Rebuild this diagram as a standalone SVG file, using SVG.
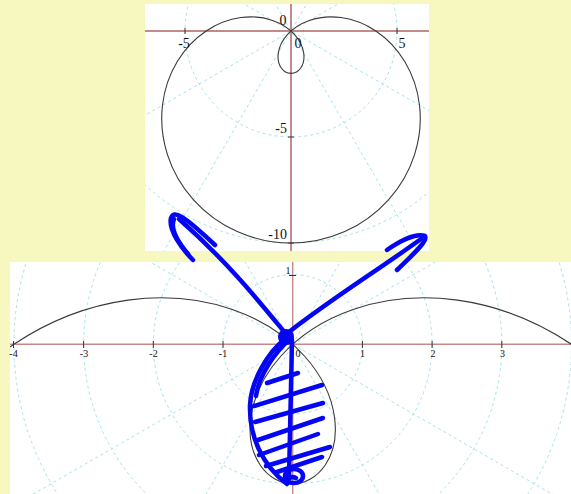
<svg xmlns="http://www.w3.org/2000/svg" xmlns:xlink="http://www.w3.org/1999/xlink" width="571" height="494" viewBox="0 0 571 494">
<style>
.grid{fill:none;stroke:#a9e3ea;stroke-width:1;stroke-dasharray:3 3}
.axis{stroke:#c48a8a;fill:none}
.tick{stroke:#333;stroke-width:1}
.curve{fill:none;stroke:#3a3a3a;stroke-width:1.1}
.lblT{font-family:"Liberation Serif",serif;font-size:14px;fill:#111}
.lblB{font-family:"Liberation Serif",serif;font-size:10px;fill:#111}
.ink{fill:none;stroke:#0505f5;stroke-width:4.5;stroke-linecap:round;stroke-linejoin:round}
</style>
<defs>
<clipPath id="cT"><rect x="145" y="4" width="284" height="247"/></clipPath>
<clipPath id="cB"><rect x="10" y="262" width="561" height="232"/></clipPath>
<path id="lim" vector-effect="non-scaling-stroke" d="M0,-10 C0.8727,-10 1.74465,-9.81392 2.53528,-9.46178 C3.3259,-9.10964 4.03398,-8.59209 4.59808,-7.9641 C5.16217,-7.33612 5.5816,-6.59886 5.82843,-5.82843 C6.07525,-5.058 6.14944,-4.25575 6.06218,-3.5 C5.97491,-2.74425 5.72681,-2.03618 5.3637,-1.4372 C5.0006,-0.83823 4.5236,-0.34907 4,0 C3.4764,0.34907 2.9075,0.55798 2.3637,0.63335 C1.81991,0.70873 1.30236,0.65115 0.86603,0.5 C0.42969,0.34885 0.07525,0.1052 -0.17157,-0.17157 C-0.4184,-0.44835 -0.55758,-0.75698 -0.59808,-1.0359 C-0.63858,-1.31482 -0.581,-1.56292 -0.46472,-1.73437 C-0.34845,-1.90583 -0.17453,-2 0,-2 C0.17453,-2 0.34845,-1.90583 0.46472,-1.73437 C0.581,-1.56292 0.63858,-1.31482 0.59808,-1.0359 C0.55758,-0.75698 0.4184,-0.44835 0.17157,-0.17157 C-0.07525,0.1052 -0.42969,0.34885 -0.86603,0.5 C-1.30236,0.65115 -1.81991,0.70873 -2.3637,0.63335 C-2.9075,0.55798 -3.4764,0.34907 -4,0 C-4.5236,-0.34907 -5.0006,-0.83823 -5.3637,-1.4372 C-5.72681,-2.03618 -5.97491,-2.74425 -6.06218,-3.5 C-6.14944,-4.25575 -6.07525,-5.058 -5.82843,-5.82843 C-5.5816,-6.59886 -5.16217,-7.33612 -4.59808,-7.9641 C-4.03398,-8.59209 -3.3259,-9.10964 -2.53528,-9.46178 C-1.74465,-9.81392 -0.8727,-10 0,-10 Z"/>
</defs>
<rect x="0" y="0" width="571" height="494" fill="#f7f8c0"/>

<g id="top-plot">
<rect x="145" y="4" width="284" height="247" fill="#fff"/>
<g clip-path="url(#cT)">
<g class="grid">
<circle cx="291" cy="31" r="106"/>
<circle cx="291" cy="31" r="212"/>
<line x1="-55.4" y1="-169" x2="637.4" y2="231"/>
<line x1="-55.4" y1="231" x2="637.4" y2="-169"/>
<line x1="91" y1="-315.4" x2="491" y2="377.4"/>
<line x1="91" y1="377.4" x2="491" y2="-315.4"/>
</g>
<line class="axis" x1="145" y1="31" x2="429" y2="31" stroke-width="2"/>
<line class="axis" x1="291" y1="4" x2="291" y2="251" stroke-width="2"/>
<line class="tick" x1="185" y1="28" x2="185" y2="34"/>
<line class="tick" x1="397" y1="28" x2="397" y2="34"/>
<line class="tick" x1="288" y1="137" x2="294" y2="137"/>
<line class="tick" x1="288" y1="243" x2="294" y2="243"/>
<use href="#lim" xlink:href="#lim" class="curve" transform="translate(291,31) scale(21.2,-21.2)"/>
</g>
<text class="lblT" x="283" y="25" text-anchor="middle">0</text>
<text class="lblT" x="298" y="48" text-anchor="middle">0</text>
<text class="lblT" x="184" y="48" text-anchor="middle">-5</text>
<text class="lblT" x="402" y="48" text-anchor="middle">5</text>
<text class="lblT" x="287" y="133" text-anchor="end">-5</text>
<text class="lblT" x="287" y="239" text-anchor="end">-10</text>
</g>

<g id="bottom-plot">
<rect x="10" y="262" width="561" height="232" fill="#fff"/>
<g clip-path="url(#cB)">
<g class="grid">
<circle cx="292.7" cy="344.3" r="69.7"/>
<circle cx="292.7" cy="344.3" r="139.4"/>
<circle cx="292.7" cy="344.3" r="209.1"/>
<circle cx="292.7" cy="344.3" r="278.8"/>
<circle cx="292.7" cy="344.3" r="348.5"/>
<line x1="-226.9" y1="44.3" x2="812.3" y2="644.3"/>
<line x1="-226.9" y1="644.3" x2="812.3" y2="44.3"/>
<line x1="-7.3" y1="-175.3" x2="592.7" y2="863.9"/>
<line x1="-7.3" y1="863.9" x2="592.7" y2="-175.3"/>
</g>
<line class="axis" x1="10" y1="344.3" x2="571" y2="344.3" stroke-width="1.4"/>
<line class="axis" x1="292.7" y1="262" x2="292.7" y2="494" stroke-width="1.4"/>
<g class="tick">
<line x1="13.5" y1="341" x2="13.5" y2="348"/>
<line x1="83.6" y1="341" x2="83.6" y2="348"/>
<line x1="153.3" y1="341" x2="153.3" y2="348"/>
<line x1="223" y1="341" x2="223" y2="348"/>
<line x1="362.4" y1="341" x2="362.4" y2="348"/>
<line x1="432.1" y1="341" x2="432.1" y2="348"/>
<line x1="501.8" y1="341" x2="501.8" y2="348"/>
<line x1="289" y1="275.5" x2="296" y2="275.5"/>
</g>
<use href="#lim" xlink:href="#lim" class="curve" transform="translate(292.7,344.3) scale(69.7,-69.7)"/>
</g>
<text class="lblB" x="13.5" y="357" text-anchor="middle">-4</text>
<text class="lblB" x="84" y="357" text-anchor="middle">-3</text>
<text class="lblB" x="153.5" y="357" text-anchor="middle">-2</text>
<text class="lblB" x="223" y="357" text-anchor="middle">-1</text>
<text class="lblB" x="298" y="357" text-anchor="middle">0</text>
<text class="lblB" x="362.5" y="357" text-anchor="middle">1</text>
<text class="lblB" x="433" y="357" text-anchor="middle">2</text>
<text class="lblB" x="502.5" y="357" text-anchor="middle">3</text>
<text class="lblB" x="288" y="274" text-anchor="middle">1</text>
</g>

<g id="connectors">
<path class="ink" d="M286,334 C262,305 228,262 179,219"/>
<path class="ink" d="M193,260 C182,249 168,230 171,218 C174,210 182,214 215,245"/>
<path class="ink" d="M188,254 C178,242 170,228 174,219" stroke-width="3"/>
<path class="ink" d="M289,332 C330,300 375,272 421,239"/>
<path class="ink" d="M387,250 C400,241 416,233 425,236 C428,240 418,250 397,270"/>
<ellipse cx="286" cy="337" rx="8" ry="8" fill="#0505f5"/>
<path class="ink" d="M285,339 C268,352 251,381 250,405 C249,436 262,465 287,484"/>
<path class="ink" d="M290,339 C275,352 259,375 256,396" stroke-width="3.5"/>
<path class="ink" d="M292,340 C291,390 290,440 289,478"/>
<path class="ink" d="M267,383 L298,373"/>
<path class="ink" d="M254,406 L322,385"/>
<path class="ink" d="M255,422 L323,403"/>
<path class="ink" d="M258,440 L323,418"/>
<path class="ink" d="M259,455 L318,434"/>
<path class="ink" d="M266,466 L330,447"/>
<path class="ink" d="M277,472 L322,457"/>
<ellipse class="ink" cx="294" cy="476" rx="9" ry="7"/>
<path class="ink" d="M285,482 C288,478 292,476 296,478"/>
</g>
</svg>
